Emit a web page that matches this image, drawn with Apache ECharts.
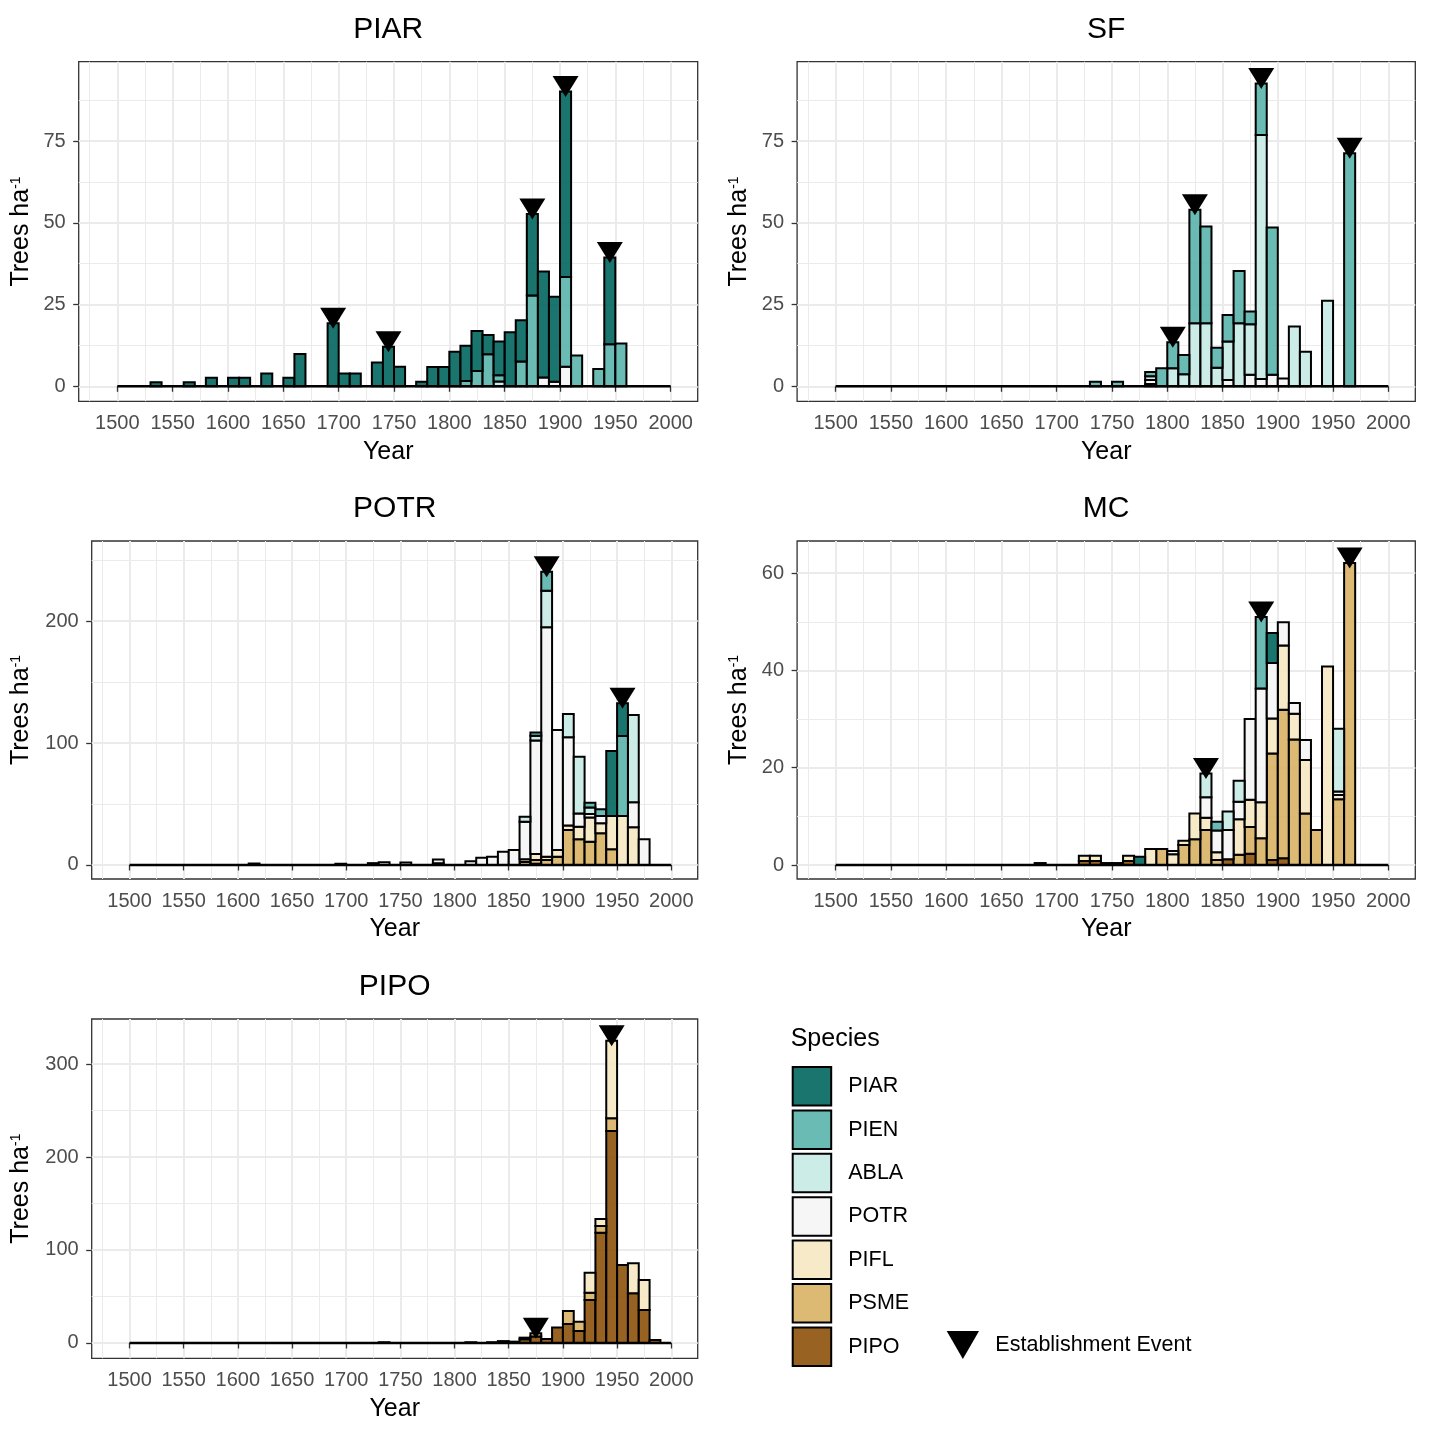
<!DOCTYPE html>
<html><head><meta charset="utf-8">
<script src="https://cdn.jsdelivr.net/npm/echarts@6/dist/echarts.min.js"></script>
<style>html,body{margin:0;padding:0;background:#fff}#c{width:1431px;height:1434px}</style>
</head><body><div id="c"></div>
<script>
// ================= DATA =================
// x axis tick labels and minor grid positions (years)
const X_TICKS = [1500,1550,1600,1650,1700,1750,1800,1850,1900,1950,2000];
const X_MINOR = [1475,1525,1575,1625,1675,1725,1775,1825,1875,1925,1975];
const BIN = 10; // 10-year establishment bins, given by bin start year

// --- Panel PIAR : [bin start, trees ha-1]
const PIAR_PIAR = [[1530,1.2],[1560,1.2],[1580,2.6],[1600,2.6],[1610,2.6],[1630,3.9],[1650,2.6],[1660,9.9],[1690,19.3],[1700,3.9],[1710,3.9],[1730,7.3],[1740,12.1],[1750,6.0],[1770,1.4],[1780,5.9],[1790,5.9],[1800,10.6],[1810,10.8],[1820,12.2],[1830,5.9],[1840,10.3],[1850,16.5],[1860,12.6],[1870,24.9],[1880,32.4],[1890,26.0],[1900,56.8],[1940,26.5]];
const PIAR_PIEN = [[1810,1.6],[1820,4.7],[1830,9.8],[1840,1.9],[1860,7.6],[1870,27.8],[1900,27.4],[1910,9.4],[1930,5.3],[1940,12.9],[1950,13.1]];
const PIAR_ABLA = [[1840,1.5]];
const PIAR_POTR = [[1880,2.7],[1890,1.4],[1900,6.0]];
const PIAR_EVENTS = [1690,1740,1870,1900,1940];
const PIAR_YTICKS = [0,25,50,75];
const PIAR_YMINOR = [12.5,37.5,62.5,87.5];

// --- Panel SF
const SF_PIEN = [[1730,1.4],[1750,1.4],[1780,1.3],[1790,5.5],[1800,8.0],[1810,5.9],[1820,34.7],[1830,29.6],[1840,6.1],[1850,8.1],[1860,16.0],[1870,3.9],[1880,15.7],[1890,45.1],[1960,71.3]];
const SF_ABLA = [[1780,1.2],[1800,5.5],[1810,3.7],[1820,19.3],[1830,19.3],[1840,5.7],[1850,11.8],[1860,19.3],[1870,15.5],[1880,74.7],[1910,18.3],[1920,10.6],[1940,26.2]];
const SF_POTR = [[1780,1.2],[1850,1.9],[1870,3.5],[1880,2.2],[1890,3.5],[1900,2.4]];
const SF_PSME = [[1780,0.7]];
const SF_EVENTS = [1800,1820,1880,1960];
const SF_YTICKS = [0,25,50,75];
const SF_YMINOR = [12.5,37.5,62.5,87.5];

// --- Panel POTR
const POTR_PIAR = [[1940,53.3],[1950,26.8]];
const POTR_PIEN = [[1870,2.7],[1880,15.6],[1920,3.8],[1930,5.5],[1950,65.6]];
const POTR_ABLA = [[1860,4.1],[1870,4.0],[1880,30.0],[1900,19.1],[1910,46.4],[1920,5.5],[1960,71.6]];
const POTR_POTR = [[1610,1.2],[1690,1.0],[1720,1.5],[1730,2.2],[1750,2.0],[1780,3.0],[1810,3.0],[1820,6.0],[1830,6.8],[1840,10.9],[1850,12.3],[1860,30.9],[1870,93.0],[1880,188.0],[1890,98.4],[1900,72.4],[1910,10.9],[1920,2.7],[1930,6.0],[1960,20.5],[1970,21.0]];
const POTR_PIFL = [[1860,2.1],[1870,5.0],[1880,2.7],[1890,5.5],[1900,3.6],[1910,10.4],[1920,19.9],[1930,8.2],[1940,27.3],[1950,40.2],[1960,30.9]];
const POTR_PSME = [[1780,1.5],[1860,2.5],[1870,3.0],[1880,4.1],[1890,6.8],[1900,28.7],[1910,21.0],[1920,19.1],[1930,26.0],[1940,12.8]];
const POTR_PIPO = [[1870,1.0]];
const POTR_EVENTS = [1880,1950];
const POTR_YTICKS = [0,100,200];
const POTR_YMINOR = [50,150,250];

// --- Panel MC
const MC_PIAR = [[1770,1.7],[1890,6.2]];
const MC_PIEN = [[1840,1.8],[1880,14.7]];
const MC_ABLA = [[1830,4.9],[1850,3.8],[1860,4.3],[1950,12.9]];
const MC_POTR = [[1800,0.7],[1830,4.2],[1840,4.5],[1850,6.0],[1860,3.6],[1870,16.6],[1880,23.4],[1890,11.4],[1900,4.8],[1910,2.2],[1920,4.1],[1950,0.7]];
const MC_PIFL = [[1720,1.1],[1730,1.1],[1760,1.1],[1780,3.3],[1800,2.2],[1810,0.9],[1820,5.3],[1830,2.5],[1840,1.6],[1860,7.3],[1870,5.6],[1880,7.4],[1890,7.2],[1900,13.2],[1910,5.3],[1920,11.0],[1940,40.8],[1950,0.9]];
const MC_PSME = [[1790,3.3],[1810,4.1],[1820,5.3],[1830,7.2],[1840,1.0],[1860,2.1],[1870,5.5],[1880,5.5],[1890,21.9],[1900,30.5],[1910,25.8],[1920,10.6],[1930,7.2],[1950,13.5],[1960,62.1]];
const MC_PIPO = [[1680,0.4],[1720,0.8],[1730,0.8],[1740,0.4],[1750,0.4],[1760,0.8],[1850,1.2],[1870,2.3],[1890,1.0],[1900,1.4]];
const MC_EVENTS = [1830,1880,1960];
const MC_YTICKS = [0,20,40,60];
const MC_YMINOR = [10,30,50];

// --- Panel PIPO
const PIPO_PIPO = [[1730,0.8],[1810,0.8],[1830,0.8],[1840,2.0],[1850,1.4],[1860,4.0],[1870,7.0],[1880,4.3],[1890,16.5],[1900,20.4],[1910,12.9],[1920,46.2],[1930,118.6],[1940,228.0],[1950,83.9],[1960,53.4],[1970,35.5],[1980,3.2]];
const PIPO_PSME = [[1860,1.7],[1870,3.4],[1900,14.0],[1910,10.0],[1920,7.9],[1930,7.2],[1940,13.6]];
const PIPO_PIFL = [[1920,21.5],[1930,7.5],[1940,83.5],[1960,32.3],[1970,32.3]];
const PIPO_EVENTS = [1870,1940];
const PIPO_YTICKS = [0,100,200,300];
const PIPO_YMINOR = [50,150,250];

const LEGEND_ORDER = ['PIAR','PIEN','ABLA','POTR','PIFL','PSME','PIPO'];
const EVENT_NAME = 'Establishment Event';

// ================= STYLE / LAYOUT =================
const STACK_ORDER = ['PIPO','PSME','PIFL','POTR','ABLA','PIEN','PIAR']; // bottom -> top
const COLORS = {
  PIAR:'rgba(1,102,94,0.9)', PIEN:'rgba(90,180,172,0.9)', ABLA:'rgba(199,234,229,0.9)',
  POTR:'rgba(245,245,245,0.9)', PIFL:'rgba(246,232,195,0.9)', PSME:'rgba(216,179,101,0.9)',
  PIPO:'rgba(140,81,10,0.9)'
};
const FONT = 'Liberation Sans, Arial, Helvetica, sans-serif';
const X_MIN = 1465.1, X_MAX = 2024.4;

const PANELS = [
  {name:'PIAR', left:78.7, top:61.7, width:619, height:339.6, yMin:-4.59, yMax:99.3, nameGap:45,
   data:{PIAR:PIAR_PIAR, PIEN:PIAR_PIEN, ABLA:PIAR_ABLA, POTR:PIAR_POTR}, events:PIAR_EVENTS, yTicks:PIAR_YTICKS, yMinor:PIAR_YMINOR},
  {name:'SF', left:797.1, top:61.7, width:618.2, height:339.6, yMin:-4.59, yMax:99.3, nameGap:45,
   data:{PIEN:SF_PIEN, ABLA:SF_ABLA, POTR:SF_POTR, PSME:SF_PSME}, events:SF_EVENTS, yTicks:SF_YTICKS, yMinor:SF_YMINOR},
  {name:'POTR', left:91.7, top:541, width:606, height:338, yMin:-11.5, yMax:265.6, nameGap:58,
   data:{PIAR:POTR_PIAR, PIEN:POTR_PIEN, ABLA:POTR_ABLA, POTR:POTR_POTR, PIFL:POTR_PIFL, PSME:POTR_PSME, PIPO:POTR_PIPO}, events:POTR_EVENTS, yTicks:POTR_YTICKS, yMinor:POTR_YMINOR},
  {name:'MC', left:797.1, top:541, width:618.2, height:338, yMin:-2.88, yMax:66.6, nameGap:45,
   data:{PIAR:MC_PIAR, PIEN:MC_PIEN, ABLA:MC_ABLA, POTR:MC_POTR, PIFL:MC_PIFL, PSME:MC_PSME, PIPO:MC_PIPO}, events:MC_EVENTS, yTicks:MC_YTICKS, yMinor:MC_YMINOR},
  {name:'PIPO', left:91.7, top:1019, width:606, height:339.3, yMin:-16.5, yMax:348.4, nameGap:58,
   data:{PIPO:PIPO_PIPO, PSME:PIPO_PSME, PIFL:PIPO_PIFL}, events:PIPO_EVENTS, yTicks:PIPO_YTICKS, yMinor:PIPO_YMINOR}
];

const TRI = 'path://M0,0L100,0L50,86.6Z';
const grids = [], xAxes = [], yAxes = [], series = [], graphics = [];
const fmt = v => String(v);

function makeRenderer(color) {
  return function (params, api) {
    const xc = api.value(0), y0 = api.value(1), y1 = api.value(2);
    const a = api.coord([xc - BIN / 2, y1]);
    const b = api.coord([xc + BIN / 2, y0]);
    return {type:'rect', shape:{x:a[0], y:a[1], width:b[0] - a[0], height:b[1] - a[1]},
      style:{fill:color, stroke:'#000', lineWidth:2}};
  };
}

PANELS.forEach((P, i) => {
  const years = Array.from(new Set(Object.values(P.data).flat().map(d => d[0]))).sort((a, b) => a - b);
  const valueAt = (sp, y) => { const a = P.data[sp]; if (!a) return 0; const f = a.find(d => d[0] === y); return f ? f[1] : 0; };

  grids.push({left:P.left, top:P.top, width:P.width, height:P.height, show:true,
    borderColor:'#333333', borderWidth:1.3, backgroundColor:'rgba(0,0,0,0)', containLabel:false, outerBoundsMode:'none'});

  xAxes.push({type:'value', gridIndex:i, min:X_MIN, max:X_MAX, position:'bottom',
    name:'Year', nameLocation:'middle', nameGap:38,
    nameTextStyle:{fontSize:25, color:'#000', fontFamily:FONT},
    axisLine:{show:false},
    axisTick:{show:true, length:5.5, lineStyle:{color:'#333', width:1.3}, customValues:X_TICKS},
    axisLabel:{customValues:X_TICKS, formatter:fmt, fontSize:20, color:'#4D4D4D', margin:12, fontFamily:FONT},
    splitLine:{show:true, lineStyle:{color:'#EBEBEB', width:2}}});
  xAxes.push({type:'value', gridIndex:i, min:X_MIN, max:X_MAX, position:'bottom',
    axisLine:{show:false}, axisTick:{show:false, customValues:X_MINOR}, axisLabel:{show:false},
    splitLine:{show:true, lineStyle:{color:'#EBEBEB', width:1}}});

  yAxes.push({type:'value', gridIndex:i, min:P.yMin, max:P.yMax, position:'left',
    name:'{a|Trees ha}{b|-1}', nameLocation:'middle', nameGap:P.nameGap, nameRotate:90,
    nameTextStyle:{fontSize:25, color:'#000', fontFamily:FONT,
      rich:{a:{fontSize:25, color:'#000', fontFamily:FONT}, b:{fontSize:14, color:'#000', fontFamily:FONT, verticalAlign:'top'}}},
    axisLine:{show:false},
    axisTick:{show:true, length:5.5, lineStyle:{color:'#333', width:1.3}, customValues:P.yTicks},
    axisLabel:{customValues:P.yTicks, formatter:fmt, fontSize:20, color:'#4D4D4D', margin:13, fontFamily:FONT},
    splitLine:{show:true, lineStyle:{color:'#EBEBEB', width:2}}});
  yAxes.push({type:'value', gridIndex:i, min:P.yMin, max:P.yMax, position:'left',
    axisLine:{show:false}, axisTick:{show:false, customValues:P.yMinor}, axisLabel:{show:false},
    splitLine:{show:true, lineStyle:{color:'#EBEBEB', width:1}}});

  // stacked bars: each segment = [bin centre, lower, upper]
  const base = years.map(() => 0);
  STACK_ORDER.forEach(sp => {
    if (!P.data[sp]) return;
    const segs = [];
    years.forEach((y, k) => {
      const v = valueAt(sp, y);
      if (v > 0) { segs.push([y + BIN / 2, base[k], base[k] + v]); base[k] += v; }
    });
    series.push({type:'custom', name:sp, xAxisIndex:2*i, yAxisIndex:2*i,
      renderItem:makeRenderer(COLORS[sp]), data:segs, encode:{x:0, y:[1, 2]},
      itemStyle:{color:COLORS[sp]}, silent:true, z:2});
  });

  // zero baseline across the binned period (outline of empty bins)
  series.push({type:'line', xAxisIndex:2*i, yAxisIndex:2*i,
    data:[[X_TICKS[0], 0], [X_TICKS[X_TICKS.length-1], 0]],
    symbol:'none', lineStyle:{color:'#000', width:2.5}, silent:true, z:3});

  series.push({type:'scatter', name:EVENT_NAME, xAxisIndex:2*i, yAxisIndex:2*i,
    data: P.events.map(y => [y + BIN/2, STACK_ORDER.reduce((s, sp) => s + valueAt(sp, y), 0)]),
    symbol:TRI, symbolSize:[26,21], symbolOffset:[0,-5], clip:false,
    itemStyle:{color:'#000', opacity:1}, emphasis:{disabled:true}, silent:true, z:5});

  graphics.push({type:'text', x:P.left + P.width/2, y:P.top - 32.2, silent:true,
    style:{text:P.name, fontSize:30, fontFamily:FONT, fill:'#000', align:'center', verticalAlign:'middle', textAlign:'center', textVerticalAlign:'middle'}});
});

graphics.push({type:'text', x:790.7, y:1039, silent:true,
  style:{text:'Species', fontSize:25, fontFamily:FONT, fill:'#000', align:'left', verticalAlign:'middle', textAlign:'left', textVerticalAlign:'middle'}});

const option = {
  animation:false,
  backgroundColor:'#fff',
  textStyle:{fontFamily:FONT},
  grid:grids, xAxis:xAxes, yAxis:yAxes, series:series, graphic:graphics,
  legend:[
    {data:LEGEND_ORDER.map(sp => ({name:sp, icon:'rect', itemStyle:{color:COLORS[sp], borderColor:'#000', borderWidth:2, opacity:1}})),
     orient:'vertical', left:791.7, top:1066, padding:0,
     itemWidth:38.5, itemHeight:38.5, itemGap:2.9, selectedMode:false,
     textStyle:{fontSize:21.5, color:'#000', fontFamily:FONT, padding:[0,0,0,12]}},
    {data:[{name:EVENT_NAME, itemStyle:{color:'#000', opacity:1}}], orient:'vertical', left:946.7, top:1331, padding:0,
     itemWidth:33, itemHeight:28, selectedMode:false,
     textStyle:{fontSize:21.5, color:'#000', fontFamily:FONT, padding:[0,0,0,11]}}
  ]
};

const chart = echarts.init(document.getElementById('c'), null, {renderer:'canvas'});
chart.setOption(option);
</script></body></html>
